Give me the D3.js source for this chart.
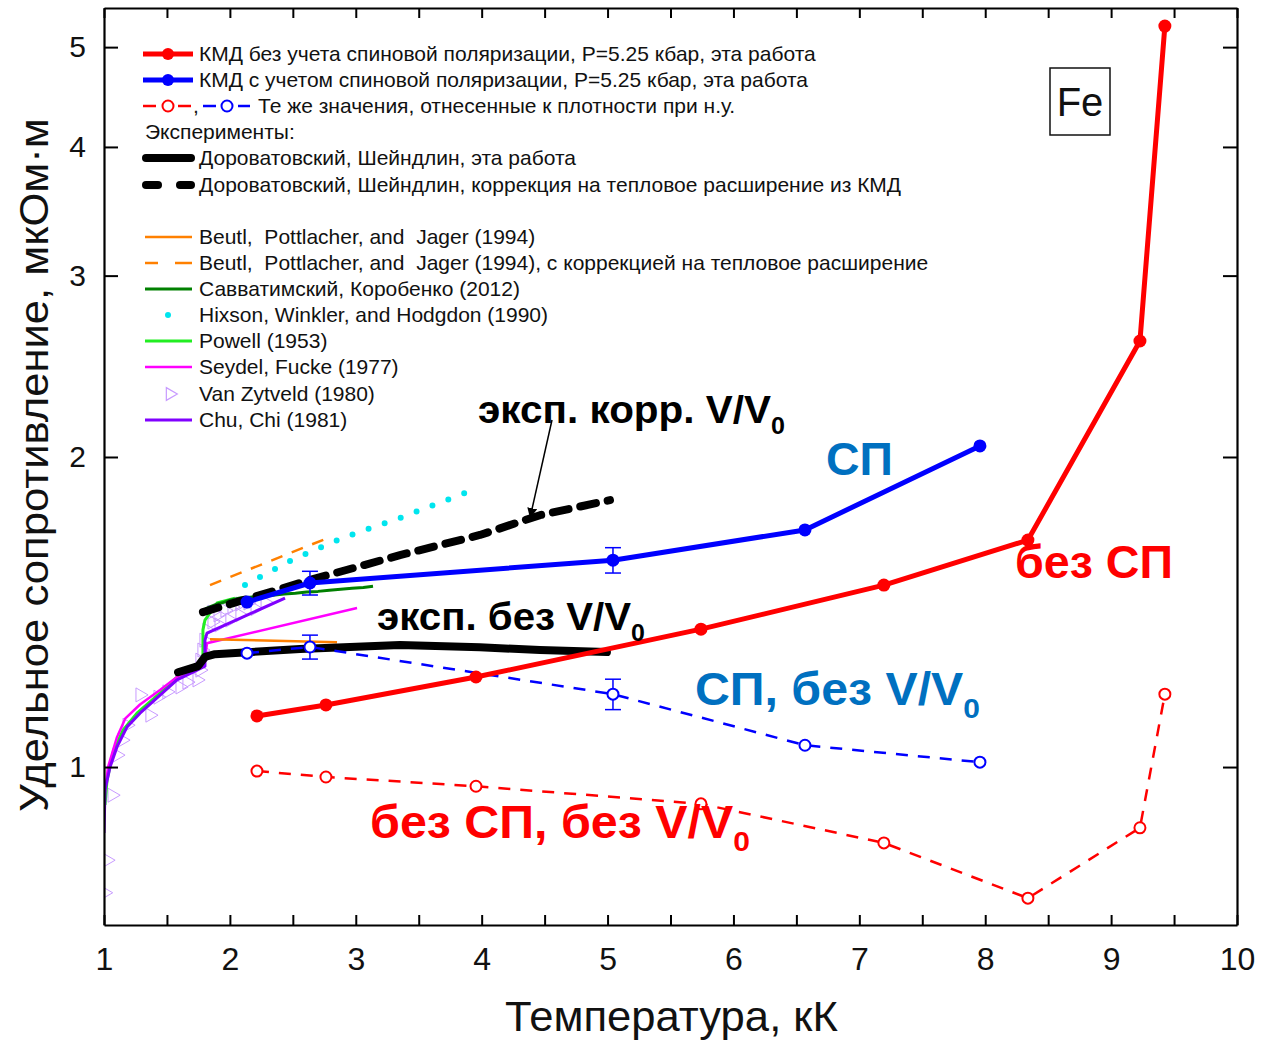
<!DOCTYPE html>
<html>
<head>
<meta charset="utf-8">
<script src="https://cdn.jsdelivr.net/npm/d3@7"></script>
<style>
  body { margin: 0; background: #fff; }
  svg { font-family: Arial, "Liberation Sans", sans-serif; }
  text { white-space: pre; }
</style>
</head>
<body>
<svg width="1280" height="1042"></svg>
<script>
// --- data (T in kK, rho in mkOhm*m) ---
var kmdNoSpT = [2.215, 2.763, 3.955, 5.742, 7.195, 8.339, 9.229, 9.427];
var kmdNoSp = [1.121, 1.149, 1.223, 1.361, 1.502, 1.661, 2.592, 5.241];
var kmdNoSpV0 = [0.991, 0.978, 0.958, 0.921, 0.844, 0.746, 0.873, 1.177];

var kmdSpT = [2.136, 2.636, 5.043, 6.568, 7.958];
var kmdSp = [1.446, 1.509, 1.588, 1.699, 2.050];
var kmdSpErr = [0, 0.04, 0.045, 0, 0];
var kmdSpV0 = [1.290, 1.308, 1.177, 1.050, 1.011];
var kmdSpV0Err = [0, 0.035, 0.04, 0, 0];

var expT = [1.588, 1.747, 1.802, 1.882, 2.557, 3.351, 3.986, 4.463, 4.995];
var expRho = [1.236, 1.253, 1.279, 1.287, 1.302, 1.314, 1.307, 1.299, 1.293];
var expCorrT = [1.786, 2.160, 2.636, 3.351, 3.986, 4.463, 5.019];
var expCorrRho = [1.414, 1.459, 1.519, 1.606, 1.680, 1.756, 1.816];

var beutlT = [1.842, 2.851];
var beutlRho = [1.331, 1.322];
var beutlCorrT = [1.842, 2.795];
var beutlCorrRho = [1.502, 1.672];

var savvT = [1.786, 1.81, 1.85, 1.9, 1.95, 2.0, 2.08, 2.16, 2.25, 2.34, 2.43, 2.52, 2.61, 2.70, 2.79, 2.88, 2.97, 3.06, 3.137];
var savvRho = [1.411, 1.425, 1.432, 1.440, 1.445, 1.452, 1.459, 1.462, 1.466, 1.468, 1.472, 1.475, 1.479, 1.481, 1.485, 1.488, 1.491, 1.494, 1.498];

var hixsonT = [2.12, 2.5, 2.9, 3.351, 3.971];
var hixsonRho = [1.502, 1.590, 1.670, 1.745, 1.866];

var powellT = [1.008, 1.024, 1.071, 1.151, 1.262, 1.445, 1.58, 1.723, 1.786, 1.786, 1.802, 1.898, 2.04];
var powellRho = [0.919, 0.971, 1.032, 1.086, 1.128, 1.180, 1.223, 1.248, 1.265, 1.359, 1.389, 1.443, 1.459];

var seydelT = [1.0, 1.032, 1.103, 1.17, 1.286, 1.445, 1.58, 1.739, 1.802, 1.818, 3.01];
var seydelRho = [0.929, 1.0, 1.069, 1.115, 1.150, 1.188, 1.223, 1.251, 1.270, 1.319, 1.427];

var chuT = [1.0, 1.008, 1.048, 1.103, 1.183, 1.286, 1.421, 1.58, 1.739, 1.802, 1.802, 1.818, 2.438];
var chuRho = [0.863, 0.950, 1.0, 1.046, 1.094, 1.128, 1.167, 1.215, 1.242, 1.253, 1.328, 1.349, 1.459];

var zytT = [1.005, 1.024, 1.064, 1.103, 1.143, 1.183, 1.286, 1.365, 1.429, 1.5, 1.604, 1.659, 1.739, 1.762, 1.762, 1.778, 1.794, 1.818, 1.858, 1.906, 1.961, 2.017, 2.08, 2.144, 1.914, 2.0, 2.08, 1.858, 2.2, 2.28];
var zytRho = [0.755, 0.812, 0.939, 1.027, 1.062, 1.098, 1.175, 1.123, 1.169, 1.183, 1.196, 1.209, 1.215, 1.242, 1.270, 1.299, 1.328, 1.359, 1.383, 1.405, 1.420, 1.430, 1.440, 1.443, 1.374, 1.389, 1.405, 1.414, 1.425, 1.445];

var xTicks = [1, 2, 3, 4, 5, 6, 7, 8, 9, 10];
var yTicks = [1, 2, 3, 4, 5];

var legendRows = [
  'КМД без учета спиновой поляризации, P=5.25 кбар, эта работа',
  'КМД с учетом спиновой поляризации, P=5.25 кбар, эта работа',
  'Те же значения, отнесенные к плотности при н.у.',
  'Эксперименты:',
  'Дороватовский, Шейндлин, эта работа',
  'Дороватовский, Шейндлин, коррекция на тепловое расширение из КМД',
  'Beutl,  Pottlacher, and  Jager (1994)',
  'Beutl,  Pottlacher, and  Jager (1994), с коррекцией на тепловое расширение',
  'Савватимский, Коробенко (2012)',
  'Hixson, Winkler, and Hodgdon (1990)',
  'Powell (1953)',
  'Seydel, Fucke (1977)',
  'Van Zytveld (1980)',
  'Chu, Chi (1981)'
];

// --- layout ---
var svg = d3.select('svg');
var padL = 104, padR = 1237, padT = 8, padB = 925;

var x = d3.scaleLinear().domain([1, 10]).range([padL, padR]);
var y = d3.scaleLog().domain([0.7025, 5.457]).range([padB, padT]);

var red = '#ff0000', blue = '#0000ff', annBlue = '#0070c0';

svg.append('clipPath').attr('id', 'clip')
  .append('rect').attr('x', padL).attr('y', padT)
  .attr('width', padR - padL).attr('height', padB - padT);

var plot = svg.append('g').attr('clip-path', 'url(#clip)');

function zip(xs, ys) {
  return xs.map(function(t, i) { return [t, ys[i]]; });
}

var line = d3.line().x(function(d) { return x(d[0]); }).y(function(d) { return y(d[1]); });

function drawLine(xs, ys, color, width, dash, cap) {
  return plot.append('path')
    .datum(zip(xs, ys))
    .attr('d', line)
    .attr('fill', 'none')
    .attr('stroke', color)
    .attr('stroke-width', width)
    .attr('stroke-dasharray', dash || null)
    .attr('stroke-linecap', cap || 'butt')
    .attr('stroke-linejoin', 'round');
}

function drawErr(xs, ys, errs, color) {
  zip(xs, ys).forEach(function(d, i) {
    var e = errs[i];
    if (!e) return;
    var cx = x(d[0]);
    var g = plot.append('g').attr('stroke', color).attr('stroke-width', 1.5);
    g.append('line').attr('x1', cx).attr('x2', cx).attr('y1', y(d[1] + e)).attr('y2', y(d[1] - e));
    g.append('line').attr('x1', cx - 8).attr('x2', cx + 8).attr('y1', y(d[1] + e)).attr('y2', y(d[1] + e));
    g.append('line').attr('x1', cx - 8).attr('x2', cx + 8).attr('y1', y(d[1] - e)).attr('y2', y(d[1] - e));
  });
}

function drawDots(xs, ys, color, r, open) {
  plot.append('g').selectAll('circle')
    .data(zip(xs, ys))
    .join('circle')
    .attr('cx', function(d) { return x(d[0]); })
    .attr('cy', function(d) { return y(d[1]); })
    .attr('r', r)
    .attr('fill', open ? '#fff' : color)
    .attr('stroke', color)
    .attr('stroke-width', open ? 2 : 0);
}

// literature curves
plot.append('g').selectAll('path')
  .data(zip(zytT, zytRho))
  .join('path')
  .attr('d', d3.symbol().type(d3.symbolTriangle).size(85))
  .attr('transform', function(d) { return 'translate(' + x(d[0]) + ',' + y(d[1]) + ') rotate(90)'; })
  .attr('fill', 'none')
  .attr('stroke', '#c89bff')
  .attr('stroke-width', 1);

drawLine(powellT, powellRho, '#22ee22', 3);
drawLine(seydelT, seydelRho, '#ff00ff', 2.5);
drawLine(chuT, chuRho, '#8000ff', 3);
drawLine(beutlT, beutlRho, '#ff8000', 2.5);
drawLine(beutlCorrT, beutlCorrRho, '#ff8000', 2.5, '12,10');
drawLine(savvT, savvRho, '#008000', 3);
drawLine(hixsonT, hixsonRho, '#00e5ee', 6, '0,17', 'round');

// experiment (this work)
drawLine(expT, expRho, '#000', 8, null, 'round');
drawLine(expCorrT, expCorrRho, '#000', 8, '16,12', 'round');

// KMD results
drawLine(kmdSpT, kmdSpV0, blue, 2.5, '12,10');
drawErr(kmdSpT, kmdSpV0, kmdSpV0Err, blue);
drawDots(kmdSpT, kmdSpV0, blue, 5.5, true);

drawLine(kmdNoSpT, kmdNoSpV0, red, 2.5, '12,10');
drawDots(kmdNoSpT, kmdNoSpV0, red, 5.5, true);

drawLine(kmdSpT, kmdSp, blue, 5);
drawErr(kmdSpT, kmdSp, kmdSpErr, blue);
drawDots(kmdSpT, kmdSp, blue, 6.5, false);

drawLine(kmdNoSpT, kmdNoSp, red, 5);
drawDots(kmdNoSpT, kmdNoSp, red, 6.5, false);

// --- axes ---
var xMinor = d3.range(1, 10.01, 0.5);
var axB = svg.append('g').attr('transform', 'translate(0,' + padB + ')')
  .call(d3.axisBottom(x).tickValues(xMinor).tickSize(-10).tickSizeOuter(0).tickPadding(22)
    .tickFormat(function(d) { return xTicks.indexOf(d) >= 0 ? d : ''; }));
svg.append('g').attr('transform', 'translate(0,' + padT + ')')
  .call(d3.axisTop(x).tickValues(xMinor).tickSize(-10).tickSizeOuter(0).tickFormat(''));
var axL = svg.append('g').attr('transform', 'translate(' + padL + ',0)')
  .call(d3.axisLeft(y).tickValues(yTicks).tickSize(-14).tickSizeOuter(0).tickPadding(18).tickFormat(d3.format('d')));
svg.append('g').attr('transform', 'translate(' + padR + ',0)')
  .call(d3.axisRight(y).tickValues(yTicks).tickSize(-14).tickSizeOuter(0).tickFormat(''));

svg.selectAll('.domain').attr('stroke-width', 2.2);
svg.selectAll('.tick line').attr('stroke-width', 2);
axB.selectAll('text').attr('font-size', 32).attr('font-family', 'Arial, Liberation Sans').attr('fill', '#111');
axL.selectAll('text').attr('font-size', 30).attr('font-family', 'Arial, Liberation Sans').attr('fill', '#111');

// text that is squeezed to a given width, like the narrow fonts of the original
function fitText(el, w) {
  var bb = el.node().getBBox();
  var x0 = +el.attr('x');
  var s = w / bb.width;
  el.attr('transform', 'translate(' + x0 + ',0) scale(' + s + ',1) translate(' + (-x0) + ',0)');
}

var xt = svg.append('text').attr('x', 505).attr('y', 1031)
  .attr('font-size', 43).attr('fill', '#111').text('Температура, кК');
fitText(xt, 333);

var yt = svg.append('g').attr('transform', 'translate(48,812) rotate(-90)');
var ytt = yt.append('text').attr('x', 0).attr('y', 0)
  .attr('font-size', 40).attr('fill', '#111').text('Удельное сопротивление, мкОм·м');
fitText(ytt, 694);

// --- legend ---
var legY = [54, 80, 106, 132, 158, 185, 237, 263, 289, 315, 341, 367, 394, 420];
var leg = svg.append('g');
legendRows.forEach(function(t, i) {
  var tx = i === 2 ? 258 : (i === 3 ? 145 : 199);
  leg.append('text').attr('x', tx).attr('y', legY[i] + 7)
    .attr('font-size', 21).attr('fill', '#111').text(t);
});

function legLine(x1, x2, yy, color, w, dash, cap) {
  leg.append('line').attr('x1', x1).attr('x2', x2).attr('y1', yy).attr('y2', yy)
    .attr('stroke', color).attr('stroke-width', w)
    .attr('stroke-dasharray', dash || null).attr('stroke-linecap', cap || 'butt');
}
function legDot(cx, cy, color, r, open) {
  leg.append('circle').attr('cx', cx).attr('cy', cy).attr('r', r)
    .attr('fill', open ? '#fff' : color).attr('stroke', color).attr('stroke-width', open ? 2 : 0);
}
legLine(143, 193, legY[0], red, 5); legDot(168, legY[0], red, 6, false);
legLine(143, 193, legY[1], blue, 5); legDot(168, legY[1], blue, 6, false);
legLine(143, 156, legY[2], red, 2.5); legLine(178, 191, legY[2], red, 2.5); legDot(168, legY[2], red, 5.5, true);
leg.append('text').attr('x', 193).attr('y', legY[2] + 7).attr('font-size', 21).attr('fill', '#111').text(',');
legLine(203, 216, legY[2], blue, 2.5); legLine(238, 250, legY[2], blue, 2.5); legDot(227, legY[2], blue, 5.5, true);
legLine(146, 191, legY[4], '#000', 8, null, 'round');
legLine(146, 158, legY[5], '#000', 8, null, 'round'); legLine(180, 191, legY[5], '#000', 8, null, 'round');
legLine(145, 192, legY[6], '#ff8000', 2.5);
legLine(145, 158, legY[7], '#ff8000', 2.5); legLine(175, 192, legY[7], '#ff8000', 2.5);
legLine(145, 192, legY[8], '#008000', 3);
legDot(168, legY[9], '#00e5ee', 3, false);
legLine(145, 192, legY[10], '#22ee22', 3);
legLine(145, 192, legY[11], '#ff00ff', 2.5);
leg.append('path').attr('d', d3.symbol().type(d3.symbolTriangle).size(70))
  .attr('transform', 'translate(170,' + legY[12] + ') rotate(90)')
  .attr('fill', 'none').attr('stroke', '#c89bff').attr('stroke-width', 1.2);
legLine(145, 192, legY[13], '#8000ff', 3);

// --- Fe box ---
svg.append('rect').attr('x', 1050).attr('y', 68).attr('width', 60).attr('height', 67)
  .attr('fill', '#fff').attr('stroke', '#111').attr('stroke-width', 1.5);
svg.append('text').attr('x', 1080).attr('y', 116).attr('text-anchor', 'middle')
  .attr('font-size', 40).attr('fill', '#111').text('Fe');

// --- annotations ---
function label(x0, y0, main, sub, size, color, w) {
  var t = svg.append('text').attr('x', x0).attr('y', y0)
    .attr('font-size', size).attr('font-weight', 'bold').attr('fill', color);
  t.append('tspan').text(main);
  if (sub) {
    t.append('tspan').attr('font-size', size * 0.62).attr('dy', size * 0.28).text(sub);
  }
  fitText(t, w);
}
label(478, 423, 'эксп. корр. V/V', '0', 38, '#000', 307);
label(826, 475, 'СП', null, 46, annBlue, 67);
label(1015, 578, 'без СП', null, 46, red, 158);
label(377, 630, 'эксп. без V/V', '0', 38, '#000', 268);
label(695, 705, 'СП, без V/V', '0', 46, annBlue, 285);
label(370, 838, 'без СП, без V/V', '0', 46, red, 380);

// arrow
svg.append('defs').append('marker').attr('id', 'arr')
  .attr('viewBox', '0 0 10 10').attr('refX', 10).attr('refY', 5)
  .attr('markerWidth', 10).attr('markerHeight', 10).attr('orient', 'auto')
  .attr('markerUnits', 'userSpaceOnUse')
  .append('path').attr('d', 'M0,0 L10,5 L0,10 z').attr('fill', '#000');
svg.append('line').attr('x1', 552).attr('y1', 420).attr('x2', 530).attr('y2', 518)
  .attr('stroke', '#000').attr('stroke-width', 1.5).attr('marker-end', 'url(#arr)');
</script>
</body>
</html>
